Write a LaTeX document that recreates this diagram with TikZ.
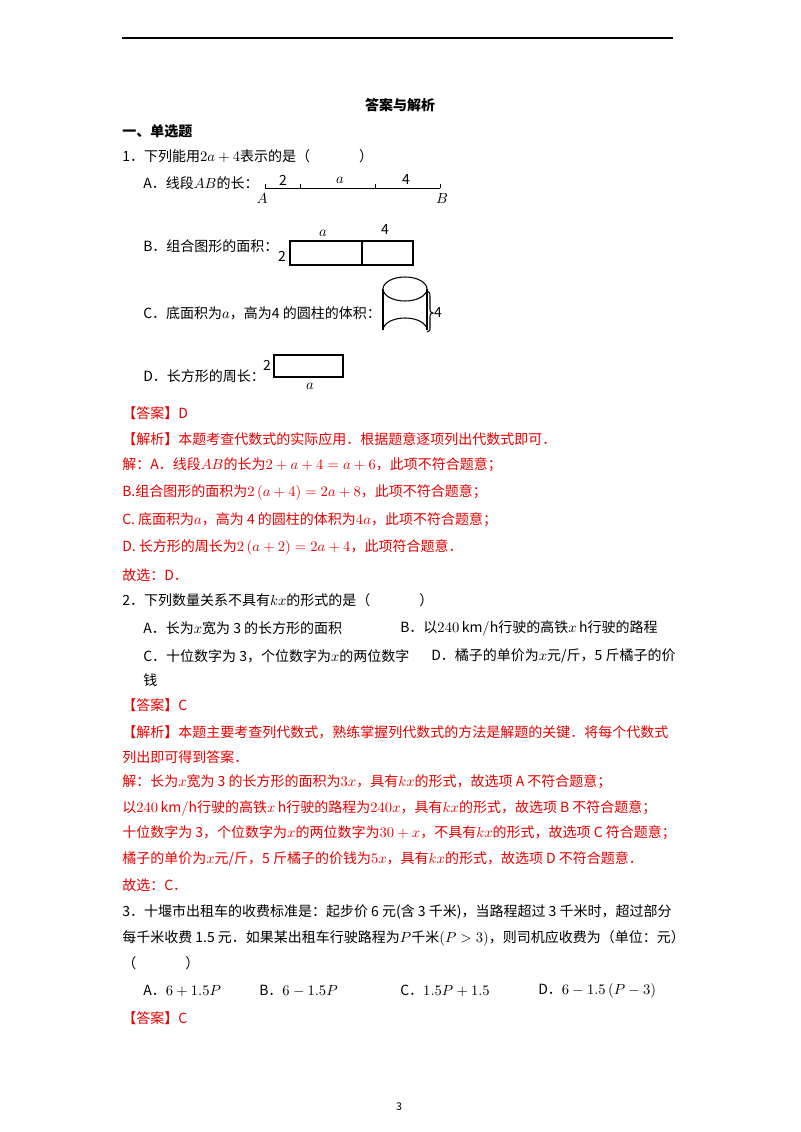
\documentclass[tikz,border=0pt]{standalone}
\usepackage{fontspec}
\setmainfont{Noto Sans CJK SC}
\definecolor{rd}{RGB}{230,0,0}
\begin{document}
\begin{tikzpicture}[x=0.75pt,y=-0.75pt,
 t/.style={anchor=west,inner sep=0pt,font=\fontsize{10.5pt}{12pt}\selectfont},
 r/.style={t,text=rd},
 s/.style={inner sep=0pt,font=\fontsize{10.5pt}{12pt}\selectfont}]
\useasboundingbox (0,0) rectangle (800,1132);
\fill[white] (0,0) rectangle (800,1132);
\draw[line width=0.8pt] (122,38) -- (673,38);
\node[s,font=\fontsize{10.5pt}{12pt}\bfseries] (title) at (400,105) {答案与解析};
\node[t,font=\fontsize{10.5pt}{12pt}\bfseries] (h1) at (122,131) {一、单选题};
\node[t] (q1) at (122,156) {1．下列能用$2a+4$表示的是（\hspace{3.5em}）};
\node[t] (qa) at (143,183) {A．线段$AB$的长：};
\coordinate (A) at (265,188); \coordinate (B) at (440,188);
\draw (A) -- (B);
\foreach \xx in {265,300,375,440} \draw (\xx,188) -- (\xx,184);
\node[s] (l2) at (283,180) {2}; \node[s] (la) at (340,180) {$a$}; \node[s] (l4) at (406,180) {4};
\node[s] (lA) at (262,199) {$A$}; \node[s] (lB) at (442,199) {$B$};
\node[t] (qb) at (143,246) {B．组合图形的面积：};
\draw[thick] (290,241) rectangle (413,265);
\draw[thick] (362,241) -- (362,265);
\node[s] (b2) at (282,256) {2}; \node[s] (ba) at (323,233) {$a$}; \node[s] (b4) at (385,230) {4};
\node[t] (qc) at (143,313) {C．底面积为$a$，高为4 的圆柱的体积：};
\draw[thick] (383,289) -- (383,330);
\draw[thick] (427,289) -- (427,330);
\draw[thick] (405,289) ellipse (22 and 12);
\draw[thick] (383,330) arc (180:360:22 and 12);
\draw[thick] (427,291) .. controls (430,292) .. (430,300) -- (430,309) .. controls (430,312) .. (433,313) .. controls (430,314) .. (430,317) -- (430,326) .. controls (430,331) .. (427,332);
\node[s] (c4) at (438,313) {4};
\node[t] (qd) at (143,376) {D．长方形的周长：};
\draw[thick] (274,355) rectangle (343,377);
\node[s] (d2) at (267,365) {2}; \node[s] (da) at (310,386) {$a$};
\node[r] (ans1) at (122,413) {【答案】D};
\node[r] (p1) at (122,439) {【解析】本题考查代数式的实际应用．根据题意逐项列出代数式即可．};
\node[r] (s1) at (122,465) {解：A．线段$AB$的长为$2+a+4=a+6$，此项不符合题意；};
\node[r] (s2) at (122,492) {B.组合图形的面积为$2\left(a+4\right)=2a+8$，此项不符合题意；};
\node[r] (s3) at (122,520) {C. 底面积为$a$，高为 4 的圆柱的体积为$4a$，此项不符合题意；};
\node[r] (s4) at (122,547) {D. 长方形的周长为$2\left(a+2\right)=2a+4$，此项符合题意．};
\node[r] (g1) at (122,575) {故选：D．};
\node[t] (q2) at (122,600) {2．下列数量关系不具有$kx$的形式的是（\hspace{3.5em}）};
\node[t] (q2a) at (143,628) {A．长为$x$宽为 3 的长方形的面积};
\node[t] (q2b) at (400,628) {B．以$240\,\mathrm{km}/\mathrm{h}$行驶的高铁$x\,\mathrm{h}$行驶的路程};
\node[t] (q2c) at (143,656) {C．十位数字为 3，个位数字为$x$的两位数字};
\node[t] (q2d) at (431,656) {D．橘子的单价为$x$元/斤，5 斤橘子的价};
\node[t] (q2e) at (143,680) {钱};
\node[r] (ans2) at (122,705) {【答案】C};
\node[r] (p2) at (122,732) {【解析】本题主要考查列代数式，熟练掌握列代数式的方法是解题的关键．将每个代数式};
\node[r] (p2b) at (122,757) {列出即可得到答案．};
\node[r] (t1) at (122,782) {解：长为$x$宽为 3 的长方形的面积为$3x$，具有$kx$的形式，故选项 A 不符合题意；};
\node[r] (t2) at (122,808) {以$240\,\mathrm{km}/\mathrm{h}$行驶的高铁$x\,\mathrm{h}$行驶的路程为$240x$，具有$kx$的形式，故选项 B 不符合题意；};
\node[r] (t3) at (122,833) {十位数字为 3，个位数字为$x$的两位数字为$30+x$，不具有$kx$的形式，故选项 C 符合题意；};
\node[r] (t4) at (122,859) {橘子的单价为$x$元/斤，5 斤橘子的价钱为$5x$，具有$kx$的形式，故选项 D 不符合题意．};
\node[r] (g2) at (122,885) {故选：C．};
\node[t] (q3) at (122,912) {3．十堰市出租车的收费标准是：起步价 6 元(含 3 千米)，当路程超过 3 千米时，超过部分};
\node[t] (q3b) at (122,938) {每千米收费 1.5 元．如果某出租车行驶路程为$P$千米$\left(P>3\right)$，则司机应收费为（单位：元）};
\node[t] (q3c) at (122,963) {（\hspace{3.5em}）};
\node[t] (o1) at (143,991) {A．$6+1.5P$};
\node[t] (o2) at (259,991) {B．$6-1.5P$};
\node[t] (o3) at (400,991) {C．$1.5P+1.5$};
\node[t] (o4) at (538,991) {D．$6-1.5\left(P-3\right)$};
\node[r] (ans3) at (122,1018) {【答案】C};
\node[s,font=\fontsize{8pt}{9pt}\selectfont] (pg) at (399,1107) {3};
\end{tikzpicture}
\end{document}
